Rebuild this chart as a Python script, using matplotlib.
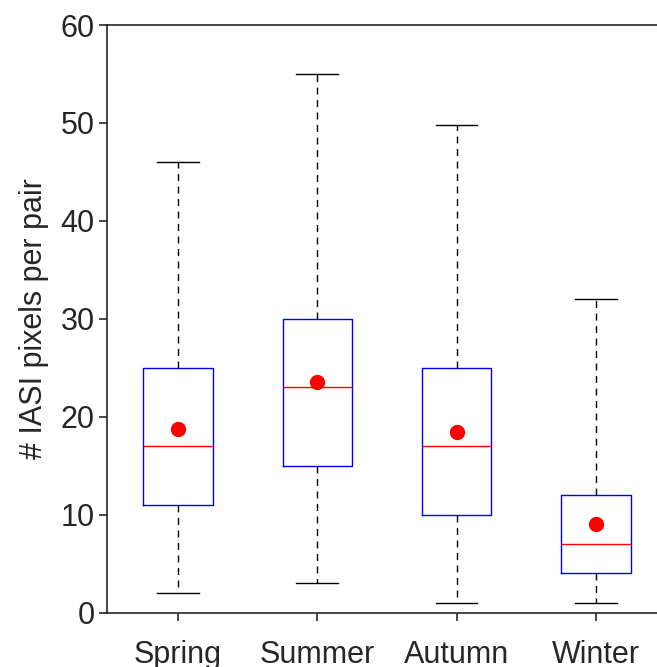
import matplotlib.pyplot as plt

seasons = ['Spring', 'Summer', 'Autumn', 'Winter']
whislo = [2, 3, 1, 1]
q1 = [11, 15, 10, 4]
med = [17, 23, 17, 7]
q3 = [25, 30, 25, 12]
whishi = [46, 55, 49.8, 32]
means = [18.7, 23.5, 18.4, 9.0]

plt.rcParams['font.family'] = ['Arial', 'Liberation Sans', 'DejaVu Sans']
fig = plt.figure(figsize=(6.57, 6.67), dpi=100)
ax = fig.add_axes([0.163, 0.0815, 0.837, 0.881])

stats = [dict(label=s, whislo=a, q1=b, med=c, q3=d, whishi=e, fliers=[])
         for s, a, b, c, d, e in zip(seasons, whislo, q1, med, q3, whishi)]
pos = [1, 2, 3, 4]
ax.bxp(stats, positions=pos, widths=0.5, showfliers=False,
       boxprops=dict(color='blue', linewidth=1),
       medianprops=dict(color='red', linewidth=1),
       whiskerprops=dict(color='black', linestyle=(0, (5, 4)), linewidth=1),
       capprops=dict(color='black', linewidth=1), capwidths=0.3)
ax.plot(pos, means, 'o', color='red', markersize=10)

ax.set_xlim(0.49, 4.44)
ax.set_ylim(0, 60)
ax.set_yticks(range(0, 61, 10))
ax.set_ylabel('# IASI pixels per pair', fontsize=22, color='#262626', labelpad=8)
ax.tick_params(axis='both', labelsize=22, labelcolor='#262626', color='#262626',
               direction='out', length=6, width=1.2)
ax.tick_params(axis='x', pad=14)
ax.tick_params(axis='y', pad=3)
for s in ax.spines.values():
    s.set_color('#262626')
    s.set_linewidth(1.2)
ax.spines['right'].set_visible(False)
fig.savefig('out.png', dpi=100)
